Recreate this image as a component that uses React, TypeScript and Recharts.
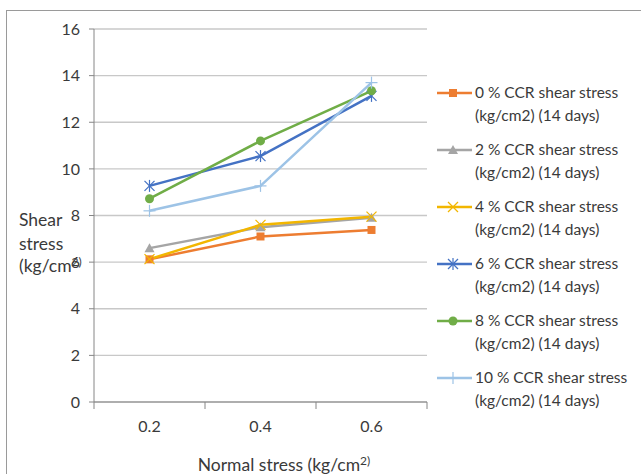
import { LineChart, Line, XAxis, YAxis, CartesianGrid, Legend } from 'recharts'

// normal stress (kg/cm2) on the x axis
const NORMAL_STRESS = [0.2, 0.4, 0.6]

// shear stress (kg/cm2) at 14 days, per CCR content
const CCR_0 = [6.12, 7.1, 7.38]
const CCR_2 = [6.6, 7.5, 7.9]
const CCR_4 = [6.13, 7.6, 7.95]
const CCR_6 = [9.27, 10.55, 13.13]
const CCR_8 = [8.72, 11.2, 13.35]
const CCR_10 = [8.2, 9.27, 13.7]

const Y_TICKS = [0, 2, 4, 6, 8, 10, 12, 14, 16]
const X_TICKS = [0.1, 0.2, 0.3, 0.4, 0.5, 0.6, 0.7]
const X_LABELS = ['0.2', '0.4', '0.6']

type Marker = 'square' | 'triangle' | 'x' | 'star' | 'circle' | 'plus'

const SERIES: { key: string, name: string, color: string, marker: Marker, values: number[] }[] = [
  { key: 'c0',  name: '0 % CCR shear stress',  color: '#ED7D31', marker: 'square',   values: CCR_0 },
  { key: 'c2',  name: '2 % CCR shear stress',  color: '#A5A5A5', marker: 'triangle', values: CCR_2 },
  { key: 'c4',  name: '4 % CCR shear stress',  color: '#F2B600', marker: 'x',        values: CCR_4 },
  { key: 'c6',  name: '6 % CCR shear stress',  color: '#4472C4', marker: 'star',     values: CCR_6 },
  { key: 'c8',  name: '8 % CCR shear stress',  color: '#70AD47', marker: 'circle',   values: CCR_8 },
  { key: 'c10', name: '10 % CCR shear stress', color: '#9DC3E6', marker: 'plus',     values: CCR_10 },
]

const data = NORMAL_STRESS.map((x, i) => {
  const row: Record<string, number> = { x }
  SERIES.forEach(s => { row[s.key] = s.values[i] })
  return row
})

const FONT = 'Lato, "Open Sans", sans-serif'
const TEXT = '#3a3a3a'
const AXIS = '#868686'

function MarkerShape({ type, cx, cy, color }: { type: Marker, cx: number, cy: number, color: string }) {
  switch (type) {
    case 'square':
      return <rect x={cx - 4} y={cy - 4} width={8} height={8} fill={color} />
    case 'triangle':
      return <polygon points={`${cx},${cy - 5} ${cx + 5},${cy + 4} ${cx - 5},${cy + 4}`} fill={color} />
    case 'x':
      return (
        <g stroke={color} strokeWidth={1.2}>
          <line x1={cx - 5} y1={cy - 5} x2={cx + 5} y2={cy + 5} />
          <line x1={cx - 5} y1={cy + 5} x2={cx + 5} y2={cy - 5} />
        </g>
      )
    case 'star':
      return (
        <g stroke={color} strokeWidth={1.2}>
          <line x1={cx - 5} y1={cy - 5} x2={cx + 5} y2={cy + 5} />
          <line x1={cx - 5} y1={cy + 5} x2={cx + 5} y2={cy - 5} />
          <line x1={cx} y1={cy - 6} x2={cx} y2={cy + 6} />
        </g>
      )
    case 'circle':
      return <circle cx={cx} cy={cy} r={4.5} fill={color} />
    case 'plus':
      return (
        <g stroke={color} strokeWidth={1.2}>
          <line x1={cx - 6} y1={cy} x2={cx + 6} y2={cy} />
          <line x1={cx} y1={cy - 6} x2={cx} y2={cy + 6} />
        </g>
      )
  }
}

function XTick({ x, y, payload }: any) {
  const v = Math.round(payload.value * 10) / 10
  const label = X_LABELS.find(l => Number(l) === v)
  if (label) {
    return (
      <text x={x} y={y + 30} textAnchor="middle" fontSize={16} fontFamily={FONT} fill={TEXT}>{label}</text>
    )
  }
  return <line x1={x} x2={x} y1={y} y2={y + 7} stroke={AXIS} />
}

function LegendBox() {
  return (
    <svg width={204} height={345} style={{ display: 'block' }}>
      {SERIES.map((s, i) => {
        const y0 = i * 57
        return (
          <g key={s.key}>
            <line x1={0} x2={35} y1={y0 + 13} y2={y0 + 13} stroke={s.color} strokeWidth={2.5} />
            <MarkerShape type={s.marker} cx={16} cy={y0 + 13} color={s.color} />
            <text fontSize={15.5} fontFamily={FONT} fill={TEXT}>
              <tspan x={38} y={y0 + 18}>{s.name}</tspan>
              <tspan x={38} y={y0 + 41}>(kg/cm2) (14 days)</tspan>
            </text>
          </g>
        )
      })}
    </svg>
  )
}

function YTitle() {
  return (
    <text fontSize={17.5} fontFamily={FONT} fill={TEXT}>
      <tspan x={19} y={226}>Shear</tspan>
      <tspan x={19} y={250}>stress</tspan>
      <tspan x={19} y={272}>(kg/cm</tspan>
      <tspan fontSize={12} dy={-6}>2)</tspan>
    </text>
  )
}

function XTitle() {
  return (
    <text fontSize={17.5} fontFamily={FONT} fill={TEXT} textAnchor="middle" x={284} y={471}>
      Normal stress (kg/cm<tspan fontSize={12} dy={-6}>2)</tspan>
    </text>
  )
}

export default function App() {
  return (
    <div style={{ position: 'absolute', left: 0, top: 0, width: 641, height: 474, overflow: 'hidden', background: '#fff' }}>
      <div style={{ position: 'absolute', left: 6, top: 10, width: 700, height: 600, border: '1px solid #9a9a9a' }} />
      <div style={{ position: 'absolute', left: 0, top: 0 }}>
        <LineChart width={641} height={474} data={data} margin={{ top: 29, right: 214, bottom: 42, left: 54 }}>
          <CartesianGrid vertical={false} stroke="#c8c8c8" strokeWidth={1.3} />
          <XAxis
            dataKey="x" type="number" domain={[0.1, 0.7]} ticks={X_TICKS}
            height={30} stroke={AXIS} tickLine={false} tickSize={0} tickMargin={0}
            tick={<XTick />} interval={0}
            label={{ content: () => <XTitle /> }}
          />
          <YAxis
            domain={[0, 16]} ticks={Y_TICKS} width={40} stroke={AXIS}
            tickSize={5} tickMargin={9} interval={0}
            tick={{ fontSize: 16, fontFamily: FONT, fill: TEXT }}
            label={{ content: () => <YTitle /> }}
          />
          <Legend
            layout="vertical" align="center" verticalAlign="middle"
            wrapperStyle={{ left: 437, top: 80, width: 204, height: 345 }}
            content={() => <LegendBox />}
          />
          {SERIES.map(s => (
            <Line
              key={s.key} dataKey={s.key} name={s.name} stroke={s.color} strokeWidth={2.5}
              isAnimationActive={false}
              dot={(p: any) => <MarkerShape key={`${s.key}-${p.index}`} type={s.marker} cx={p.cx} cy={p.cy} color={s.color} />}
              activeDot={false}
            />
          ))}
        </LineChart>
      </div>
    </div>
  )
}
